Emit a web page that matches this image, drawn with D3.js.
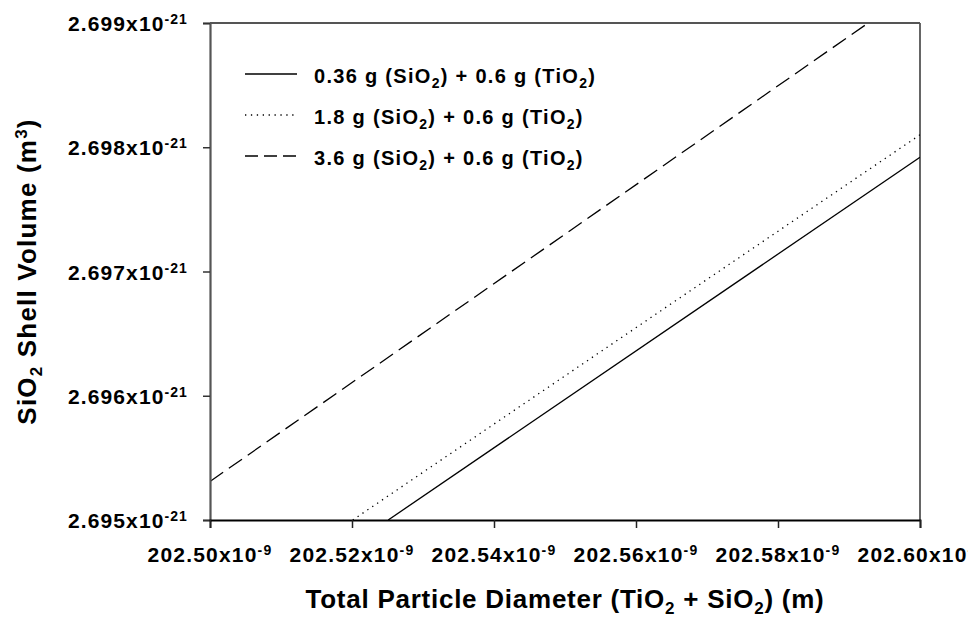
<!DOCTYPE html>
<html lang="en">
<head>
  <meta charset="UTF-8">
  <title>SiO2 Shell Volume</title>
  <script src="https://d3js.org/d3.v7.min.js"></script>
  <style>
    body {
      margin: 0;
      background: #fff;
    }
    svg text {
      font-family: "Liberation Sans", Arial, sans-serif;
      font-weight: bold;
      fill: #000;
    }
  </style>
</head>
<body>
  <div id="chart"></div>

  <script type="text/javascript">
    // Tick values and labels (diameter in units of 1e-9 m, volume in 1e-21 m^3)
    var xTicks = [202.50, 202.52, 202.54, 202.56, 202.58, 202.60];
    var xTickLabels = ["202.50", "202.52", "202.54", "202.56", "202.58", "202.60"];
    var yTicks = [2.695, 2.696, 2.697, 2.698, 2.699];
    var yTickLabels = ["2.695", "2.696", "2.697", "2.698", "2.699"];

    // Series: SiO2 mass in the legend, read-off end points of each line
    var seriesSiO2 = ["0.36", "1.8", "3.6"];
    var seriesDash = ["none", "1.3,4.6", "16,7"];
    var solidDiam = [202.5251, 202.60];
    var solidVol = [2.695, 2.69792];
    var dottedDiam = [202.5201, 202.60];
    var dottedVol = [2.695, 2.69810];
    var dashedDiam = [202.50, 202.5927];
    var dashedVol = [2.69531, 2.699];

    var seriesDiam = [solidDiam, dottedDiam, dashedDiam];
    var seriesVol = [solidVol, dottedVol, dashedVol];

    var width = 968, height = 618;
    var margin = {top: 23, right: 48, bottom: 98, left: 210};

    var svg = d3.select("#chart")
      .append("svg")
      .attr("width", width)
      .attr("height", height);

    var x = d3.scaleLinear()
      .domain([202.50, 202.60])
      .range([margin.left, width - margin.right]);

    var y = d3.scaleLinear()
      .domain([2.695, 2.699])
      .range([height - margin.bottom, margin.top]);

    svg.append("defs").append("clipPath")
      .attr("id", "plot-clip")
      .append("rect")
      .attr("x", x.range()[0])
      .attr("y", y.range()[1])
      .attr("width", x.range()[1] - x.range()[0])
      .attr("height", y.range()[0] - y.range()[1]);

    // top and right frame
    svg.append("line")
      .attr("x1", x.range()[0]).attr("x2", x.range()[1])
      .attr("y1", y.range()[1]).attr("y2", y.range()[1])
      .attr("stroke", "#555").attr("stroke-width", 1.8);
    svg.append("line")
      .attr("x1", x.range()[1]).attr("x2", x.range()[1])
      .attr("y1", y.range()[1]).attr("y2", y.range()[0])
      .attr("stroke", "#555").attr("stroke-width", 1.8);

    // lines
    var line = d3.line()
      .x(function(d) { return x(d[0]); })
      .y(function(d) { return y(d[1]); });

    seriesDiam.forEach(function(diam, i) {
      var pts = diam.map(function(d, j) { return [d, seriesVol[i][j]]; });
      svg.append("path")
        .datum(pts)
        .attr("clip-path", "url(#plot-clip)")
        .attr("fill", "none")
        .attr("stroke", "#000")
        .attr("stroke-width", 1.3)
        .attr("stroke-dasharray", seriesDash[i])
        .attr("d", line);
    });

    // y axis
    var yAxis = svg.append("g")
      .attr("transform", "translate(" + x.range()[0] + ",0)")
      .call(d3.axisLeft(y).tickValues(yTicks).tickSize(7).tickFormat(""));
    yAxis.select(".domain").attr("stroke", "#555").attr("stroke-width", 2.2);
    yAxis.selectAll(".tick line").attr("stroke", "#333").attr("stroke-width", 1.5);

    yTicks.forEach(function(v, i) {
      var t = svg.append("text")
        .attr("x", x.range()[0] - 22)
        .attr("y", y(v) + 8)
        .attr("text-anchor", "end")
        .style("font-size", "21px")
        .style("letter-spacing", "1.1px");
      t.append("tspan").text(yTickLabels[i] + "x10");
      t.append("tspan").attr("dy", -7).style("font-size", "14px").text("-21");
    });

    // x axis
    var xAxis = svg.append("g")
      .attr("transform", "translate(0," + y.range()[0] + ")")
      .call(d3.axisBottom(x).tickValues(xTicks).tickSize(8).tickFormat(""));
    xAxis.select(".domain").attr("stroke", "#000").attr("stroke-width", 1.8);
    xAxis.selectAll(".tick line").attr("stroke", "#222").attr("stroke-width", 1.5);

    xTicks.forEach(function(v, i) {
      var t = svg.append("text")
        .attr("x", x(v))
        .attr("y", y.range()[0] + 42)
        .attr("text-anchor", "middle")
        .style("font-size", "21px")
        .style("letter-spacing", "1.2px");
      t.append("tspan").text(xTickLabels[i] + "x10");
      t.append("tspan").attr("dy", -7).style("font-size", "14px").text("-9");
    });

    // axis titles
    var xTitle = svg.append("text")
      .attr("x", (x.range()[0] + x.range()[1]) / 2)
      .attr("y", 608)
      .attr("text-anchor", "middle")
      .style("font-size", "26px")
      .style("letter-spacing", "0.75px");
    xTitle.append("tspan").text("Total Particle Diameter (TiO");
    xTitle.append("tspan").attr("dy", 6).style("font-size", "17px").text("2");
    xTitle.append("tspan").attr("dy", -6).text(" + SiO");
    xTitle.append("tspan").attr("dy", 6).style("font-size", "17px").text("2");
    xTitle.append("tspan").attr("dy", -6).text(") (m)");

    var yTitle = svg.append("text")
      .attr("transform", "translate(36," + ((y.range()[0] + y.range()[1]) / 2) + ") rotate(-90)")
      .attr("text-anchor", "middle")
      .style("font-size", "26px")
      .style("letter-spacing", "1.2px");
    yTitle.append("tspan").text("SiO");
    yTitle.append("tspan").attr("dy", 6).style("font-size", "17px").text("2");
    yTitle.append("tspan").attr("dy", -6).text(" Shell Volume (m");
    yTitle.append("tspan").attr("dy", -9).style("font-size", "17px").text("3");
    yTitle.append("tspan").attr("dy", 9).text(")");

    // legend
    var legend = svg.append("g").attr("transform", "translate(245,74)");
    seriesSiO2.forEach(function(m, i) {
      var row = legend.append("g").attr("transform", "translate(0," + (i * 41) + ")");
      row.append("line")
        .attr("x1", 0).attr("x2", 52)
        .attr("y1", 0).attr("y2", 0)
        .attr("stroke", "#000")
        .attr("stroke-width", 1.3)
        .attr("stroke-dasharray", i === 2 ? "13,6" : seriesDash[i]);
      var t = row.append("text")
        .attr("x", 69)
        .attr("y", 9)
        .style("font-size", "20px")
        .style("letter-spacing", "1.3px");
      t.append("tspan").text(m + " g (SiO");
      t.append("tspan").attr("dy", 5).style("font-size", "14px").text("2");
      t.append("tspan").attr("dy", -5).text(") + 0.6 g (TiO");
      t.append("tspan").attr("dy", 5).style("font-size", "14px").text("2");
      t.append("tspan").attr("dy", -5).text(")");
    });
  </script>
</body>
</html>
